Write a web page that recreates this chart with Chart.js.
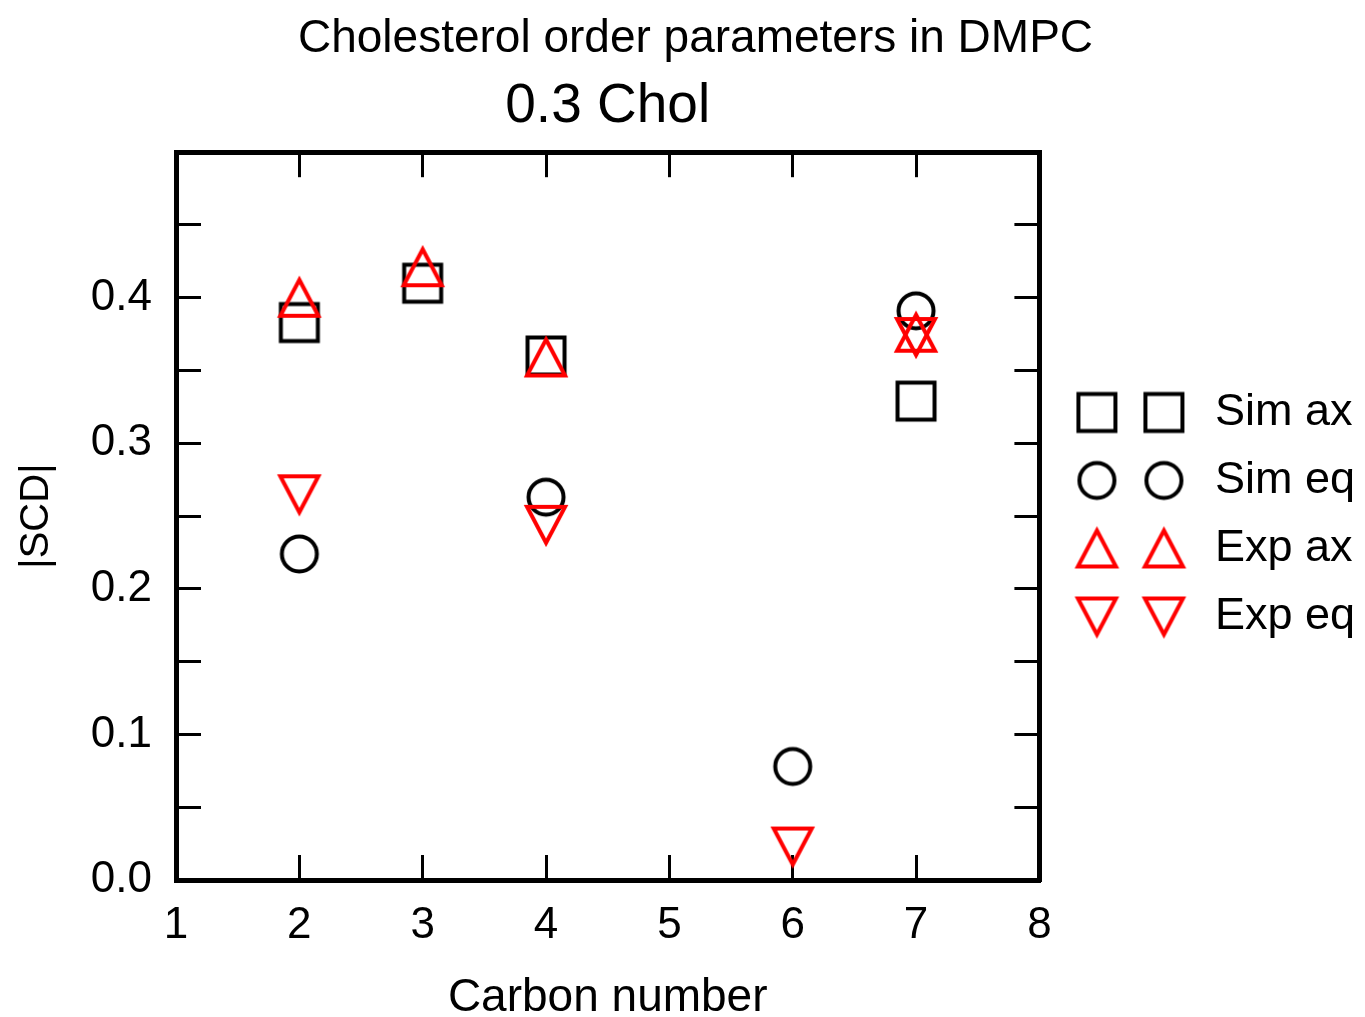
<!DOCTYPE html>
<html>
<head>
<meta charset="utf-8">
<title>Cholesterol order parameters in DMPC</title>
<script src="https://cdn.jsdelivr.net/npm/chart.js@4"></script>
<style>
  html, body { margin: 0; padding: 0; background: #fff; }
  #wrap { width: 1365px; height: 1017px; position: relative; }
</style>
</head>
<body>
<div id="wrap"><canvas id="orderChart"></canvas></div>
<script>
// carbon positions for the axial / equatorial deuterons
const carbonsAx = [2, 3, 4, 7];
const carbonsEq = [2, 4, 6, 7];

// |S_CD| values
const simAx = [0.383, 0.41, 0.36, 0.329];
const simEq = [0.224, 0.263, 0.078, 0.391];
const expAx = [0.4, 0.421, 0.359, 0.376];
const expEq = [0.265, 0.244, 0.023, 0.373];

const yTickLabels = ["0.0", "0.1", "0.2", "0.3", "0.4"];

document.addEventListener("DOMContentLoaded", () => {
  const FONT = "'Liberation Sans', Arial, Helvetica, sans-serif";
  Chart.defaults.font.family = FONT;
  Chart.defaults.color = "#000";

  // outline markers like the grace plot (point = box centre)
  const drawShape = (ctx, shape, cx, cy) => {
    ctx.beginPath();
    if (shape === "square") {
      ctx.rect(cx - 18.5, cy - 18.5, 37, 37);
    } else if (shape === "circle") {
      ctx.arc(cx, cy, 17.5, 0, Math.PI * 2);
    } else if (shape === "up") {
      ctx.moveTo(cx, cy - 18);
      ctx.lineTo(cx + 19, cy + 18);
      ctx.lineTo(cx - 19, cy + 18);
      ctx.closePath();
    } else {
      ctx.moveTo(cx, cy + 18);
      ctx.lineTo(cx + 19, cy - 18);
      ctx.lineTo(cx - 19, cy - 18);
      ctx.closePath();
    }
    ctx.stroke();
  };

  const makeMarker = (shape, color, pair = false) => {
    const c = document.createElement("canvas");
    c.width = pair ? 132 : 60;
    c.height = 60;
    const ctx = c.getContext("2d");
    ctx.strokeStyle = color;
    ctx.lineWidth = 4;
    ctx.lineJoin = "miter";
    if (pair) {
      drawShape(ctx, shape, 32.5, 30);
      drawShape(ctx, shape, 99.5, 30);
    } else {
      drawShape(ctx, shape, 30, 30);
    }
    return c;
  };

  const series = [
    { label: "Sim ax", xs: carbonsAx, ys: simAx, shape: "square", color: "#000000", order: 1 },
    { label: "Sim eq", xs: carbonsEq, ys: simEq, shape: "circle", color: "#000000", order: 1 },
    { label: "Exp ax", xs: carbonsAx, ys: expAx, shape: "up", color: "#ff0000", order: 0 },
    { label: "Exp eq", xs: carbonsEq, ys: expEq, shape: "down", color: "#ff0000", order: 0 },
  ];

  const legendMarkers = series.map((s) => makeMarker(s.shape, s.color, true));

  const datasets = series.map((s) => ({
    label: s.label,
    data: s.xs.map((x, i) => ({ x: x, y: s.ys[i] })),
    pointStyle: makeMarker(s.shape, s.color),
    pointRadius: 20,
    showLine: false,
    order: s.order,
    clip: false,
  }));

  const tickGrid = {
    drawOnChartArea: false,
    tickLength: -25,
    tickWidth: 3,
    tickColor: "#000",
  };
  const frame = { display: true, color: "#000", width: 5 };

  new Chart(document.getElementById("orderChart").getContext("2d"), {
    type: "scatter",
    data: { datasets: datasets },
    options: {
      responsive: true,
      maintainAspectRatio: false,
      animation: false,
      devicePixelRatio: 1,
      layout: { padding: { left: 26, right: 0, top: 0, bottom: 0 } },
      plugins: {
        title: {
          display: true,
          text: "Cholesterol order parameters in DMPC",
          color: "#000",
          font: { size: 46, weight: "normal", lineHeight: 1.2 },
          padding: { top: 12, bottom: 0 },
        },
        legend: {
          position: "right",
          maxWidth: 420,
          // blank title only nudges the rows down a little
          title: { display: true, text: " ", padding: 0, font: { size: 10, lineHeight: 1.2 } },
          labels: {
            usePointStyle: true,
            pointStyleWidth: 124,
            padding: 23,
            color: "#000",
            font: { size: 45 },
            generateLabels: (chart) =>
              chart.data.datasets.map((ds, i) => ({
                text: ds.label,
                pointStyle: legendMarkers[i],
                fillStyle: "transparent",
                strokeStyle: "transparent",
                lineWidth: 0,
                hidden: false,
                datasetIndex: i,
                fontColor: "#000",
              })),
          },
        },
        tooltip: { enabled: false },
      },
      scales: {
        x: {
          type: "linear",
          position: "bottom",
          min: 1,
          max: 8,
          ticks: { stepSize: 1, font: { size: 44 }, padding: 44, autoSkip: false, maxRotation: 0, color: "#000" },
          grid: tickGrid,
          border: frame,
          title: {
            display: true,
            text: "Carbon number",
            color: "#000",
            font: { size: 46, lineHeight: 0.7 },
            padding: { top: 0, bottom: 3 },
          },
          afterFit: (scale) => {
            scale.height = 137;
          },
        },
        x2: {
          type: "linear",
          axis: "x",
          position: "top",
          min: 1,
          max: 8,
          ticks: { display: false, stepSize: 1 },
          grid: tickGrid,
          border: frame,
          title: {
            display: true,
            text: "0.3 Chol",
            color: "#000",
            font: { size: 55, lineHeight: 1.2 },
            padding: { top: 7, bottom: 0 },
          },
          afterFit: (scale) => {
            scale.height = 85;
          },
        },
        y: {
          type: "linear",
          position: "left",
          min: 0,
          max: 0.5,
          ticks: {
            stepSize: 0.05,
            autoSkip: false,
            padding: 49,
            color: "#000",
            font: { size: 44 },
            callback: (value) =>
              yTickLabels.find((l) => Math.abs(parseFloat(l) - value) < 1e-6) || "",
          },
          grid: tickGrid,
          border: frame,
          title: {
            display: true,
            text: "|SCD|",
            color: "#000",
            font: { size: 40, lineHeight: 0.5 },
            padding: { top: 1, bottom: 0 },
          },
          afterFit: (scale) => {
            scale.width = 150;
          },
        },
        y2: {
          type: "linear",
          axis: "y",
          position: "right",
          min: 0,
          max: 0.5,
          ticks: { display: false, stepSize: 0.05 },
          grid: tickGrid,
          border: frame,
          afterFit: (scale) => {
            scale.width = 6;
          },
        },
      },
    },
  });
});
</script>
</body>
</html>
